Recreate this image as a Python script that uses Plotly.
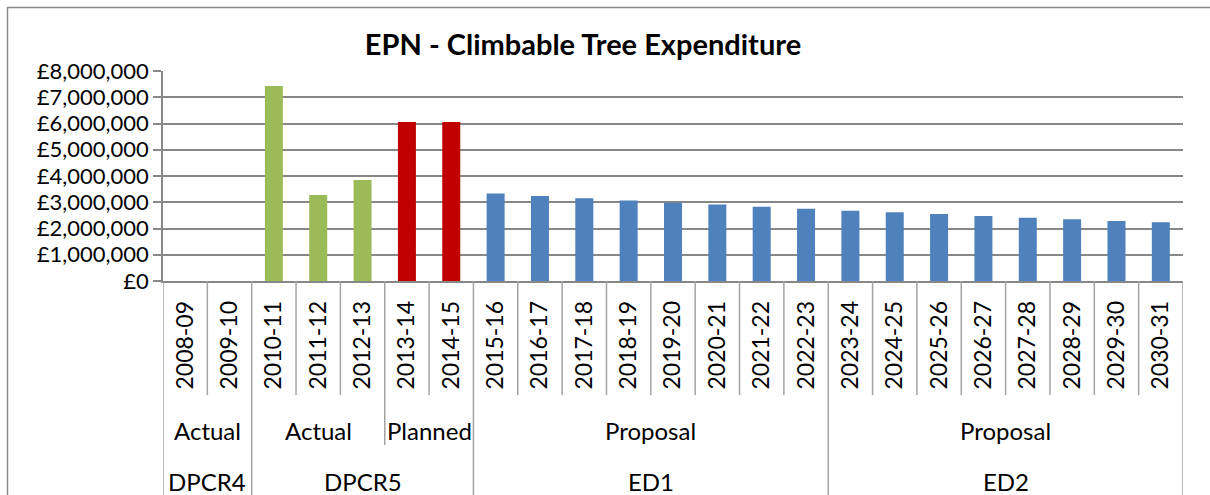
import plotly.graph_objects as go

# ---- data ----
years = ["2008-09", "2009-10", "2010-11", "2011-12", "2012-13", "2013-14", "2014-15",
         "2015-16", "2016-17", "2017-18", "2018-19", "2019-20", "2020-21", "2021-22",
         "2022-23", "2023-24", "2024-25", "2025-26", "2026-27", "2027-28", "2028-29",
         "2029-30", "2030-31"]
spend = [None, None, 7430000, 3280000, 3850000, 6060000, 6060000,
         3330000, 3240000, 3150000, 3070000, 2980000, 2910000, 2830000,
         2750000, 2680000, 2620000, 2550000, 2480000, 2410000, 2350000,
         2290000, 2240000]
status = ["Actual", "Actual", "Actual", "Actual", "Actual", "Planned", "Planned"] + ["Proposal"] * 16
period = ["DPCR4", "DPCR4", "DPCR5", "DPCR5", "DPCR5", "DPCR5", "DPCR5"] + ["ED1"] * 8 + ["ED2"] * 8
status_colors = {"Actual": "#9BBB59", "Planned": "#C00000", "Proposal": "#4F81BD"}
y_ticks = [0, 1000000, 2000000, 3000000, 4000000, 5000000, 6000000, 7000000, 8000000]
y_tick_labels = ["£{:,}".format(v) for v in y_ticks]

FONT = "Lato"
GRID = "#878787"
SEP = "#a3a3a3"

n = len(years)
idx = list(range(n))

fig = go.Figure(go.Bar(
    x=idx, y=spend,
    marker=dict(color=[status_colors[s] for s in status], line=dict(width=0)),
    hoverinfo="x+y",
))

# plot-area geometry (px) used to express label rows in paper units
W, H = 1210, 495
L, R, T, B = 163, 27, 71, 214
ph = H - T - B  # plot height


def py(px_y):
    """pixel y (from top) -> paper y"""
    return (H - B - px_y) / ph


def pxx(px_x):
    return (px_x - L) / (W - L - R)


row1_bottom = py(395)
row2_bottom = py(445)
full_bottom = py(500)

shapes = []
# separators between categories
for i in range(-1, n):
    xb = i + 0.5
    if i == -1 or i == n - 1:
        y1 = full_bottom
    elif period[i] != period[i + 1]:
        y1 = full_bottom
    elif status[i] != status[i + 1]:
        y1 = row2_bottom
    else:
        y1 = row1_bottom
    shapes.append(dict(type="line", xref="x", yref="paper", x0=xb, x1=xb, y0=0, y1=y1,
                       line=dict(color=SEP, width=1.5), layer="above"))

# outer chart border
shapes.append(dict(type="rect", xref="paper", yref="paper",
                   x0=pxx(7.5), x1=pxx(1230), y0=py(7.5), y1=py(520),
                   line=dict(color="#8c8c8c", width=1.5), fillcolor="rgba(0,0,0,0)"))

annotations = []


def groups(keys):
    out = []
    start = 0
    for i in range(1, n + 1):
        if i == n or keys[i] != keys[start]:
            out.append((start, i - 1))
            start = i
    return out


pairs = list(zip(period, status))
for a, b in groups(pairs):
    annotations.append(dict(x=(a + b) / 2, y=py(430), xref="x", yref="paper",
                            text=status[a], showarrow=False,
                            font=dict(family=FONT, size=24, color="black"),
                            xanchor="center", yanchor="middle"))
for a, b in groups(period):
    annotations.append(dict(x=(a + b) / 2, y=py(481), xref="x", yref="paper",
                            text=period[a], showarrow=False,
                            font=dict(family=FONT, size=24, color="black"),
                            xanchor="center", yanchor="middle"))

fig.update_layout(
    width=W, height=H,
    margin=dict(l=L, r=R, t=T, b=B, pad=0),
    paper_bgcolor="white", plot_bgcolor="white",
    bargap=0.594,
    showlegend=False,
    title=dict(text="<b>EPN - Climbable Tree Expenditure</b>",
               font=dict(family=FONT, size=29, color="black"),
               x=583 / W, xref="container", xanchor="center",
               y=1 - 45 / H, yref="container", yanchor="middle"),
    font=dict(family=FONT, color="black"),
    shapes=shapes,
    annotations=annotations,
)

fig.update_xaxes(
    range=[-0.5, n - 0.5],
    tickmode="array", tickvals=idx, ticktext=years,
    tickangle=-90, tickfont=dict(family=FONT, size=23, color="black"),
    ticks="", ticklabelstandoff=9,
    showgrid=False, zeroline=False,
    showline=True, linecolor=GRID, linewidth=1.5,
    fixedrange=True,
)
fig.update_yaxes(
    range=[0, 8000000],
    tickmode="array", tickvals=y_ticks, ticktext=y_tick_labels,
    tickfont=dict(family=FONT, size=22, color="black"),
    ticks="outside", ticklen=8, tickcolor=GRID, tickwidth=1.5,
    showgrid=True, gridcolor=GRID, gridwidth=1.5,
    zeroline=False,
    showline=True, linecolor=GRID, linewidth=1.5,
    fixedrange=True,
)

fig.write_html("out.html", config={"displayModeBar": False},
               post_script="document.body.style.margin='0';")
